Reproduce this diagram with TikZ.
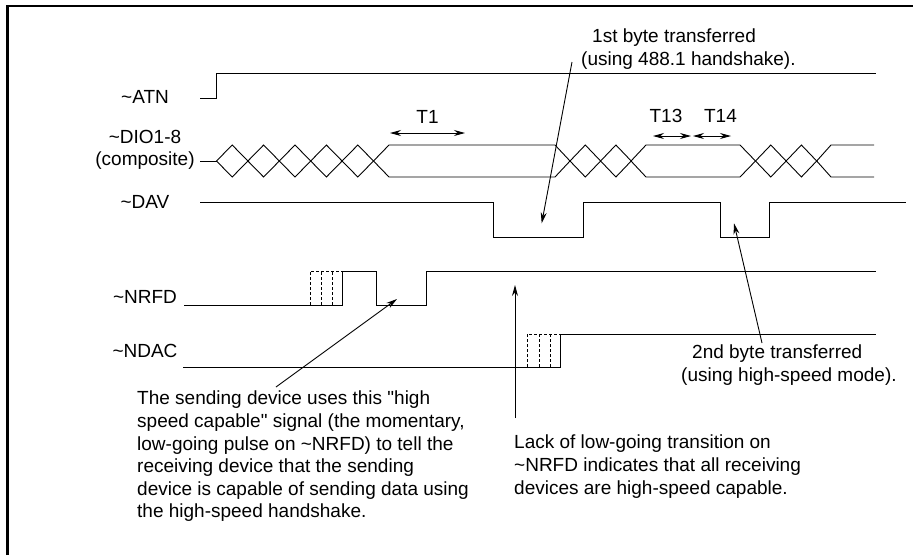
\documentclass[tikz,border=0pt]{standalone}
\usepackage{fontspec}
\setmainfont{Liberation Sans}
\usetikzlibrary{arrows.meta}

\begin{document}
\begin{tikzpicture}[
  x=1pt, y=-1pt, >={Stealth[length=11pt,width=6pt]},
  sig/.style={line width=0.9pt},
  hs/.style={line width=0.8pt, dash pattern=on 3pt off 2pt},
  lbl/.style={font=\fontsize{19}{22.6}\selectfont, inner sep=0pt},
  note/.style={lbl, align=left},
  ptr/.style={->, line width=0.9pt},
  tim/.style={<->, line width=0.9pt}
]
\useasboundingbox (0,0) rectangle (913,555);
\draw[line width=2.5pt] (7.5,555) -- (7.5,6) -- (913,6);

% signal names
\node[lbl] (atn)  at (145,97)  {\textasciitilde ATN};
\node[lbl, align=center] (dio) at (145,150) {\textasciitilde DIO1-8\\(composite)};
\node[lbl] (dav)  at (145,202) {\textasciitilde DAV};
\node[lbl] (nrfd) at (145,297) {\textasciitilde NRFD};
\node[lbl] (ndac) at (145,351) {\textasciitilde NDAC};

% ~ATN
\draw[sig] (200,98) -- (216,98) -- (216,73) -- (876,73);

% ~DIO1-8 bus
\draw[sig] (200,161) -- (216.5,161);
\foreach \s/\h/\n in {216.5/15.7/4, 570/15.3/1, 755.5/15.3/1}
  \foreach \k in {0,...,\n}
    \draw[sig] ({\s+2*\k*\h},161) -- ++(\h,-16) -- ++(\h,16) -- ++(-\h,16) -- cycle;
\draw[sig] (373.5,161) -- (389,145) -- (555,145) -- (570,161) -- (555,177) -- (389,177) -- cycle;
\draw[sig] (631,161) -- (646,145) -- (740,145) -- (755.5,161) -- (740,177) -- (646,177) -- cycle;
\draw[sig] (874,145) -- (831,145) -- (816.7,161) -- (831,177) -- (874,177);

% ~DAV
\draw[sig] (200,202) -- (493,202) -- (493,237) -- (583,237) -- (583,202) -- (720,202)
  -- (720,237) -- (769,237) -- (769,202) -- (906,202);

% ~NRFD
\draw[sig] (184,305) -- (342,305) -- (342,271) -- (376,271) -- (376,305) -- (426,305)
  -- (426,271) -- (876,271);
\draw[hs] (310,305) -- (310,271) -- (342,271);
\draw[hs] (321,305) -- (321,271);
\draw[hs] (332,305) -- (332,271);

% ~NDAC
\draw[sig] (183,367) -- (560,367) -- (560,334) -- (876,334);
\draw[hs] (527,367) -- (527,334) -- (560,334);
\draw[hs] (539,367) -- (539,334);
\draw[hs] (550,367) -- (550,334);

% timing
\node[lbl, anchor=base] (t1)  at (427.5,123) {T1};
\node[lbl, anchor=base] (t13) at (666,122) {T13};
\node[lbl, anchor=base] (t14) at (720.5,122) {T14};
\coordinate (t1a) at (390,133);  \coordinate (t1b) at (465,133);
\coordinate (t13a) at (653,136); \coordinate (t13b) at (691,136);
\coordinate (t14a) at (693,136); \coordinate (t14b) at (731,136);
\draw[tim] (t1a) -- (t1b);
\draw[tim] (t13a) -- (t13b);
\draw[tim] (t14a) -- (t14b);

% notes
\node[note, anchor=north west] (first) at (581,29) {\hspace{11pt}1st byte transferred\\(using 488.1 handshake).};
\node[note, anchor=north west] (second) at (681,345) {\hspace{11pt}2nd byte transferred\\(using high-speed mode).};
\node[note, anchor=north west] (send) at (137,391) {The sending device uses this \textquotedbl high\\
speed capable\textquotedbl{} signal (the momentary,\\
low-going pulse on \textasciitilde NRFD) to tell the\\
receiving device that the sending\\
device is capable of sending data using\\
the high-speed handshake.};
\node[note, anchor=north west] (lack) at (514,435) {Lack of low-going transition on\\
\textasciitilde NRFD indicates that all receiving\\
devices are high-speed capable.};

\coordinate (firstfrom) at (572,62);   \coordinate (firstto) at (541.7,223.3);
\coordinate (secondfrom) at (762,343); \coordinate (secondto) at (734,223.3);
\coordinate (sendfrom) at (276,387);   \coordinate (sendto) at (397,299);
\coordinate (lackfrom) at (515,418);   \coordinate (lackto) at (515,285);
\draw[ptr] (firstfrom) -- (firstto);
\draw[ptr] (secondfrom) -- (secondto);
\draw[ptr] (sendfrom) -- (sendto);
\draw[ptr] (lackfrom) -- (lackto);
\end{tikzpicture}
\end{document}
